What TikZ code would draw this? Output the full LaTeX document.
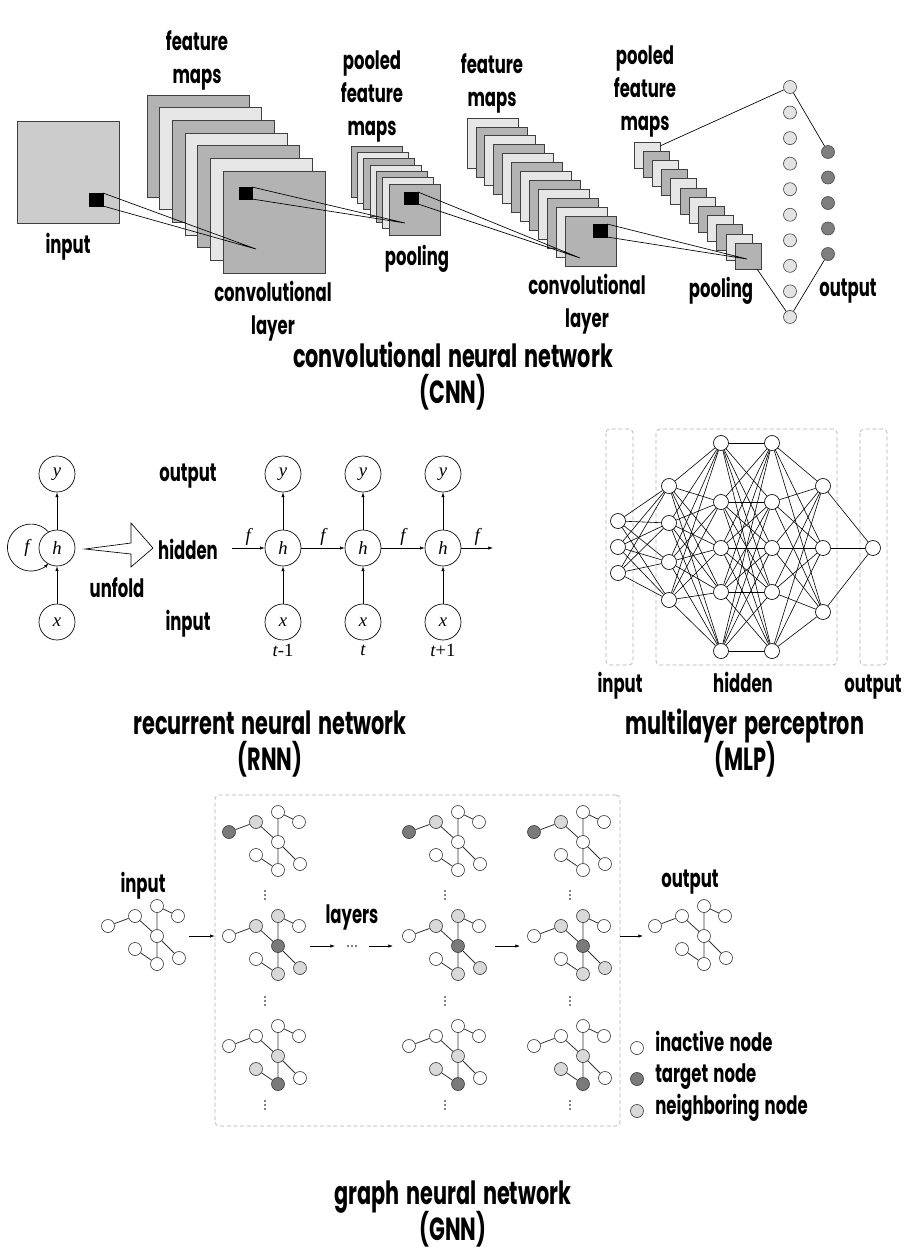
\documentclass[tikz,border=0pt]{standalone}
\usepackage{fontspec}
\setmainfont{Poppins}[FakeStretch=0.65, WordSpace=1.5]
\newfontfamily\serifit{Liberation Serif}
\usetikzlibrary{arrows.meta}

\definecolor{inputgray}{HTML}{CCCCCC}
\definecolor{mapdark}{HTML}{B3B3B3}
\definecolor{maplight}{HTML}{E6E6E6}
\definecolor{denselight}{HTML}{E3E3E3}
\definecolor{outdark}{HTML}{7F7F7F}
\definecolor{targetgray}{HTML}{7A7A7A}
\definecolor{neighgray}{HTML}{D9D9D9}
\definecolor{boxgray}{HTML}{B0B0B0}

\newcommand{\lblfont}{\bfseries\fontsize{19}{24.75}\selectfont\lineskiplimit=-100pt}
\newcommand{\ttlfont}{\bfseries\fontsize{24}{27}\selectfont\lineskiplimit=-100pt}
\newcommand{\varfont}{\serifit\itshape\fontsize{14}{14}\selectfont}

\tikzset{
  lbl/.style={font=\lblfont, align=center, inner sep=0pt},
  ttl/.style={font=\ttlfont, align=center, inner sep=0pt},
  fmap/.style={draw=black!75, line width=0.6pt},
  kernel/.style={fill=black},
  ray/.style={line width=0.5pt},
  dense/.style={circle, draw=black!70, fill=denselight, line width=0.5pt, minimum size=9.75pt, inner sep=0pt},
  outn/.style={dense, fill=outdark},
  rnode/.style={circle, draw, fill=white, line width=0.5pt, minimum size=27pt, inner sep=0pt, font=\varfont},
  rarr/.style={-{Latex[length=3.5pt, width=2.5pt]}, line width=0.5pt},
  flbl/.style={above, font=\varfont, inner sep=1.5pt},
  mnode/.style={circle, draw, fill=white, line width=0.5pt, minimum size=11.25pt, inner sep=0pt},
  mline/.style={line width=0.45pt},
  mbox/.style={draw=boxgray, dashed, dash pattern=on 3pt off 2pt, rounded corners=3pt, line width=0.5pt},
  gnode/.style={circle, draw=black!75, fill=white, line width=0.5pt, minimum size=9.75pt, inner sep=0pt},
  gedge/.style={line width=0.6pt, draw=black!80},
  target/.style={fill=targetgray},
  neigh/.style={fill=neighgray},
  % which nodes are coloured in each row of the layer grid
  row1A/.style={target}, row1B/.style={neigh},
  row2E/.style={target}, row2B/.style={neigh}, row2C/.style={neigh}, row2G/.style={neigh}, row2H/.style={neigh},
  row3G/.style={target}, row3E/.style={neigh}, row3F/.style={neigh}
}

% small graph: name, centre, row type (0 = all inactive)
\newcommand{\gnngraph}[3]{%
  \begin{scope}[shift={#2}]
    \node[gnode, row#3A/.try] (#1A) at (-49,-10) {};
    \node[gnode, row#3B/.try] (#1B) at (-22,-20) {};
    \node[gnode, row#3C/.try] (#1C) at (0,-30) {};
    \node[gnode, row#3D/.try] (#1D) at (21,-20) {};
    \node[gnode, row#3E/.try] (#1E) at (0,0) {};
    \node[gnode, row#3F/.try] (#1F) at (-22,13) {};
    \node[gnode, row#3G/.try] (#1G) at (0,28) {};
    \node[gnode, row#3H/.try] (#1H) at (22,22) {};
    \draw[gedge] (#1A) -- (#1B) (#1B) -- (#1E) (#1C) -- (#1E) (#1E) -- (#1G)
                 (#1C) -- (#1D) (#1E) -- (#1H) (#1F) -- (#1G);
  \end{scope}}

\begin{document}
\begin{tikzpicture}[x=0.75pt, y=-0.75pt]
  \useasboundingbox (0,0) rectangle (906,1254);
  \fill[white] (0,0) rectangle (906,1254);

  % ---------------- CNN ----------------
  \filldraw[fmap, fill=inputgray] (17,121) rectangle (119,223);
  \filldraw[kernel] (89,193) rectangle (103,206);

  % first feature maps
  \foreach \i in {0,...,6} {
    \ifodd\i \def\c{maplight}\else \def\c{mapdark}\fi
    \filldraw[fmap, fill=\c] ({147+12.67*\i},{95+12.67*\i}) rectangle +(102,102);
  }
  \filldraw[kernel] (239,187) rectangle (252,199);

  % first pooled maps
  \foreach \i in {0,...,6} {
    \ifodd\i \def\c{maplight}\else \def\c{mapdark}\fi
    \filldraw[fmap, fill=\c] ({351+6.33*\i},{146+6.33*\i}) rectangle +(51,51);
  }
  \filldraw[kernel] (404,192) rectangle (418,204);

  % second feature maps
  \foreach \i in {0,...,11} {
    \ifodd\i \def\c{mapdark}\else \def\c{maplight}\fi
    \filldraw[fmap, fill=\c] ({467+8.9*\i},{118+8.9*\i}) rectangle +(51,50);
  }
  \filldraw[kernel] (593,224) rectangle (607,237);

  % second pooled maps
  \foreach \i in {0,...,11} {
    \ifodd\i \def\c{mapdark}\else \def\c{maplight}\fi
    \filldraw[fmap, fill=\c] ({634+9.2*\i},{142+9.2*\i}) rectangle +(26,26);
  }

  % receptive field rays
  \coordinate (fc1) at (256,249);
  \coordinate (fc2) at (405,223);
  \coordinate (fc3) at (580,258);
  \coordinate (fc4) at (747,259);
  \draw[ray] (103,193) -- (fc1) (103,206) -- (fc1);
  \draw[ray] (252,187) -- (fc2) (252,199) -- (fc2);
  \draw[ray] (418,192) -- (fc3) (418,204) -- (fc3);
  \draw[ray] (607,224) -- (fc4) (607,237) -- (fc4);

  % dense + output layer
  \foreach \j in {1,...,10}
    \node[dense] (d\j) at (790,{87+25.55*(\j-1)}) {};
  \foreach \k in {1,...,5}
    \node[outn] (o\k) at (828,{152+25.5*(\k-1)}) {};
  \coordinate (pt) at (660,146);
  \coordinate (pb) at (757,269);
  \draw[ray] (pt) -- (d1) (pb) -- (d10) (d1) -- (o1) (d10) -- (o5);

  \node[lbl] (cin) at (68,247) {input};
  \node[lbl] (cfm1) at (197,60) {feature\\maps};
  \node[lbl] (ccl1) at (273,311) {convolutional\\layer};
  \node[lbl] (cpm1) at (372,96) {pooled\\feature\\maps};
  \node[lbl] (cpl1) at (417,259) {pooling};
  \node[lbl] (cfm2) at (492,83) {feature\\maps};
  \node[lbl] (ccl2) at (587,304) {convolutional\\layer};
  \node[lbl] (cpm2) at (645,91) {pooled\\feature\\maps};
  \node[lbl] (cpl2) at (721,291) {pooling};
  \node[lbl] (cout) at (848,291) {output};
  \node[ttl] (cnnttl) at (453,376) {convolutional neural network\\(CNN)};

  % ---------------- RNN ----------------
  \node[rnode] (y0) at (57,474) {y};
  \node[rnode] (h0) at (57,548) {h};
  \node[rnode] (x0) at (57,622) {x};
  \draw[rarr] (x0) -- (h0);
  \draw[rarr] (h0) -- (y0);
  \draw[rarr] (h0.118) arc[start angle=-42, end angle=-318, radius=23.5];
  \node[font=\varfont] (f0) at (27,548) {f};

  % unfold arrow
  \draw[line width=0.5pt] (85,549) -- (131,543) -- (131,523) -- (153,548)
    -- (131,567) -- (131,554) -- cycle;
  \node[lbl] (unf) at (117,588) {unfold};

  \node[lbl] (rout) at (188,476) {output};
  \node[lbl] (rhid) at (188,549) {hidden};
  \node[lbl] (rin) at (188,624) {input};

  \foreach \c/\xx in {1/283, 2/363, 3/443} {
    \node[rnode] (y\c) at (\xx,474) {y};
    \node[rnode] (h\c) at (\xx,548) {h};
    \node[rnode] (x\c) at (\xx,622) {x};
    \draw[rarr] (x\c) -- (h\c);
    \draw[rarr] (h\c) -- (y\c);
  }
  \coordinate (hin) at (232,548);
  \coordinate (hout) at (493,548);
  \draw[rarr] (hin) -- node[flbl] {f} (h1);
  \draw[rarr] (h1) -- node[flbl] {f} (h2);
  \draw[rarr] (h2) -- node[flbl] {f} (h3);
  \draw[rarr] (h3) -- node[flbl] {f} (hout);
  \node[font=\varfont] (t1) at (283,650) {t\upshape -1};
  \node[font=\varfont] (t2) at (363,650) {t};
  \node[font=\varfont] (t3) at (443,650) {t\upshape +1};
  \node[ttl] (rnnttl) at (270,744) {recurrent neural network\\(RNN)};

  % ---------------- MLP ----------------
  \draw[mbox] (606,429) rectangle (633,665);
  \draw[mbox] (656,429) rectangle (837,665);
  \draw[mbox] (860,429) rectangle (887,665);

  \foreach \i/\yy in {1/521, 2/547, 3/573}
    \node[mnode] (m0-\i) at (618,\yy) {};
  \foreach \i/\yy in {1/486, 2/523, 3/562, 4/600}
    \node[mnode] (m1-\i) at (669,\yy) {};
  \foreach \i/\yy in {1/443, 2/502, 3/548, 4/592, 5/651} {
    \node[mnode] (m2-\i) at (721,\yy) {};
    \node[mnode] (m3-\i) at (772,\yy) {};
  }
  \foreach \i/\yy in {1/486, 2/548, 3/612}
    \node[mnode] (m4-\i) at (823,\yy) {};
  \node[mnode] (m5-1) at (873,548) {};

  \foreach \a/\na/\b/\nb in {0/3/1/4, 1/4/2/5, 2/5/3/5, 3/5/4/3, 4/3/5/1}
    \foreach \i in {1,...,\na}
      \foreach \j in {1,...,\nb}
        \draw[mline] (m\a-\i) -- (m\b-\j);

  \node[lbl, anchor=base] (min) at (620,692) {input};
  \node[lbl, anchor=base] (mhid) at (743,692) {hidden};
  \node[lbl, anchor=base] (mout) at (873,692) {output};
  \node[ttl] (mlpttl) at (745,743) {multilayer perceptron\\(MLP)};

  % ---------------- GNN ----------------
  \node[mbox, minimum width=303.75pt, minimum height=248.25pt, inner sep=0pt] (gbox) at (417.5,960.5) {};

  \gnngraph{gin}{(157,936)}{0}
  \gnngraph{gout}{(704,936)}{0}
  \foreach \c/\xx in {1/278, 2/458, 3/583} {
    \gnngraph{g\c a}{(\xx,842)}{1}
    \gnngraph{g\c b}{(\xx,946)}{2}
    \gnngraph{g\c c}{(\xx,1056)}{3}
    % vertical ellipses
    \foreach \yy in {895, 1001, 1105}
      \foreach \k in {-4,0,4}
        \fill ({\xx-13},{\yy+\k}) circle[radius=0.8];
  }
  % horizontal ellipsis between layers
  \foreach \k in {-4,0,4}
    \fill ({352+\k},946) circle[radius=0.8];

  \coordinate (ga0) at (189,936);
  \coordinate (ga1) at (310,946);
  \coordinate (ga2) at (335,946);
  \coordinate (ga3) at (369,946);
  \coordinate (ga4) at (393,946);
  \coordinate (ga5) at (495,946);
  \coordinate (ga6) at (520,946);
  \coordinate (ga7) at (643,936);
  \draw[rarr] (ga0) -- (ga0 -| gbox.west);
  \draw[rarr] (ga1) -- (ga2);
  \draw[rarr] (ga3) -- (ga4);
  \draw[rarr] (ga5) -- (ga6);
  \draw[rarr] (ga7 -| gbox.east) -- (ga7);

  \node[lbl] (gin) at (143,886) {input};
  \node[lbl] (glay) at (352,917) {layers};
  \node[lbl] (gout) at (690,882) {output};

  % legend
  \node[gnode] (lg1) at (637,1048) {};
  \node[gnode, target] (lg2) at (637,1079) {};
  \node[gnode, neigh] (lg3) at (637,1111) {};
  \node[lbl, anchor=mid west] (lgt1) at (655,1048) {inactive node};
  \node[lbl, anchor=mid west] (lgt2) at (655,1079) {target node};
  \node[lbl, anchor=mid west] (lgt3) at (655,1111) {neighboring node};

  \node[ttl] (gnnttl) at (453,1214) {graph neural network\\(GNN)};
\end{tikzpicture}
\end{document}
